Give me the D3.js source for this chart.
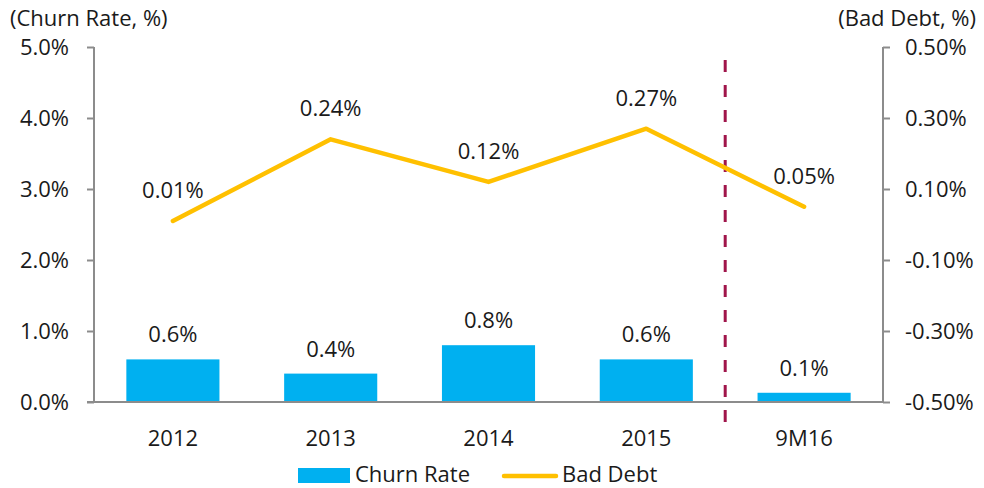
<!DOCTYPE html>
<html><head><meta charset="utf-8">
<script src="https://cdn.jsdelivr.net/npm/d3@7"></script>
<style>body{margin:0;background:#fff}svg text{font-family:"Open Sans",sans-serif;font-weight:400;fill:#1a1a1a}</style>
</head><body><svg id="c" width="984" height="488"></svg>
<script>
const categories = ["2012","2013","2014","2015","9M16"];
const churnRate = [0.6,0.4,0.8,0.6,0.13];
const churnLabels = ["0.6%","0.4%","0.8%","0.6%","0.1%"];
const badDebt = [0.01,0.24,0.12,0.27,0.05];
const badDebtLabels = ["0.01%","0.24%","0.12%","0.27%","0.05%"];
const leftTicks = [0,1,2,3,4,5];
const rightTicks = [-0.5,-0.3,-0.1,0.1,0.3,0.5];

const svg = d3.select("#c");
const L = 94, R = 883, T = 47, B = 402;
const x = d3.scaleBand().domain(categories).range([L,R]).paddingInner(0.41).paddingOuter(0.205);
const yL = d3.scaleLinear().domain([0,5]).range([B,T]);
const yR = d3.scaleLinear().domain([-0.5,0.5]).range([B,T]);
const fs = 22;

// bars
svg.selectAll("rect.bar").data(churnRate).join("rect").attr("class","bar")
  .attr("x",(d,i)=>x(categories[i])).attr("width",x.bandwidth())
  .attr("y",d=>yL(d)).attr("height",d=>B-yL(d)).attr("fill","#00B0F0");
svg.selectAll("text.bl").data(churnRate).join("text").attr("class","bl")
  .attr("x",(d,i)=>x(categories[i])+x.bandwidth()/2).attr("y",d=>yL(d)-17)
  .attr("text-anchor","middle").attr("font-size",fs).text((d,i)=>churnLabels[i]);

// axes
const axL = svg.append("g").attr("transform",`translate(${L},0)`)
  .call(d3.axisLeft(yL).tickValues(leftTicks).tickSize(7).tickPadding(18).tickFormat(d=>d.toFixed(1)+"%"));
const axR = svg.append("g").attr("transform",`translate(${R},0)`)
  .call(d3.axisRight(yR).tickValues(rightTicks).tickSize(7).tickPadding(15).tickFormat(d=>d.toFixed(2)+"%"));
[axL,axR].forEach(a=>{
  a.select(".domain").attr("stroke","#8c8c8c").attr("stroke-width",2).attr("d",`M0,${T}V${B}`);
  a.selectAll(".tick line").attr("stroke","#8c8c8c").attr("stroke-width",2);
  a.selectAll(".tick text").attr("font-size",fs).attr("fill","#1a1a1a").attr("font-family","Open Sans, sans-serif");
});
// baseline
svg.append("line").attr("x1",L-7).attr("x2",R).attr("y1",B).attr("y2",B).attr("stroke","#8c8c8c").attr("stroke-width",2);

// category labels
svg.selectAll("text.cat").data(categories).join("text").attr("class","cat")
  .attr("x",d=>x(d)+x.bandwidth()/2).attr("y",446).attr("text-anchor","middle").attr("font-size",fs).text(d=>d);

// dashed separator
const sepX = (x("2015")+x.bandwidth() + x("9M16"))/2;
svg.append("line").attr("x1",sepX).attr("x2",sepX).attr("y1",60).attr("y2",425)
  .attr("stroke","#A0154A").attr("stroke-width",3).attr("stroke-dasharray","12,13");

// line
const line = d3.line().x((d,i)=>x(categories[i])+x.bandwidth()/2).y(d=>yR(d));
svg.append("path").datum(badDebt).attr("d",line).attr("fill","none")
  .attr("stroke","#FFC000").attr("stroke-width",4.5).attr("stroke-linecap","round").attr("stroke-linejoin","round");
svg.selectAll("text.ll").data(badDebt).join("text").attr("class","ll")
  .attr("x",(d,i)=>x(categories[i])+x.bandwidth()/2).attr("y",d=>yR(d)-23)
  .attr("text-anchor","middle").attr("font-size",fs).text((d,i)=>badDebtLabels[i]);

// axis titles
svg.append("text").attr("x",10).attr("y",26).attr("font-size",fs).text("(Churn Rate, %)");
svg.append("text").attr("x",976).attr("y",26).attr("text-anchor","end").attr("font-size",fs).text("(Bad Debt, %)");

// legend
svg.append("rect").attr("x",298).attr("y",468).attr("width",52).attr("height",15).attr("fill","#00B0F0");
svg.append("text").attr("x",355).attr("y",482).attr("font-size",fs).text("Churn Rate");
svg.append("line").attr("x1",504).attr("x2",556).attr("y1",476).attr("y2",476).attr("stroke","#FFC000").attr("stroke-width",4.5).attr("stroke-linecap","round");
svg.append("text").attr("x",562).attr("y",482).attr("font-size",fs).text("Bad Debt");
</script></body></html>
